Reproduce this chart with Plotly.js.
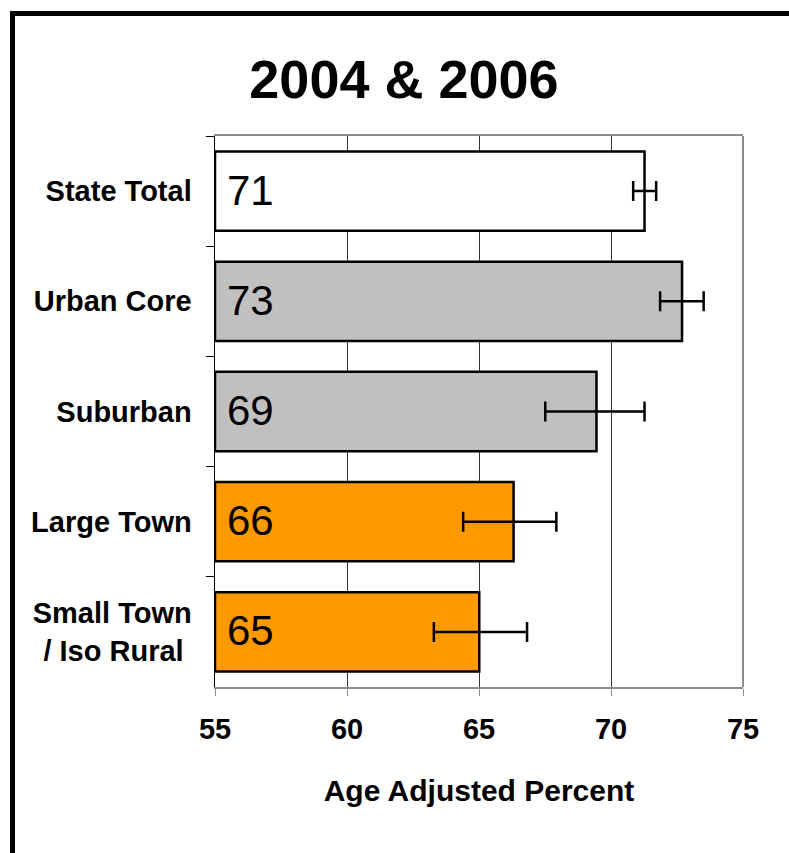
<!DOCTYPE html>
<html>
<head>
<meta charset="utf-8">
<script src="https://cdn.plot.ly/plotly-3.0.1.min.js"></script>
<style>
  html, body { margin: 0; padding: 0; background: #fff; }
  #wrap { position: relative; width: 789px; height: 853px; overflow: hidden; }
  #chart { position: absolute; left: 0; top: 0; width: 789px; height: 853px; }
  #frame { position: absolute; left: 10px; top: 11px; width: 900px; height: 900px;
           border-left: 5px solid #000; border-top: 5px solid #000; pointer-events: none; }
</style>
</head>
<body>
<div id="wrap">
  <div id="chart"></div>
  <div id="frame"></div>
</div>
<script>
// Data
const categories = ['State Total', 'Urban Core', 'Suburban', 'Large Town', 'Small Town<br>/ Iso Rural&nbsp;'];
const values     = [71.27, 72.69, 69.45, 66.31, 65.01];
const errPlus    = [0.44, 0.82, 1.82, 1.62, 1.81];
const errMinus   = [0.43, 0.83, 1.94, 1.91, 1.72];
const barColors  = ['#FFFFFF', '#C0C0C0', '#C0C0C0', '#FF9900', '#FF9900'];
const xTicks     = [55, 60, 65, 70, 75];
const axisMin    = 55;

const trace = {
  type: 'bar',
  orientation: 'h',
  y: categories,
  x: values.map(v => v - axisMin),
  base: axisMin,
  marker: { color: barColors, line: { color: '#000', width: 2.5 } },
  error_x: {
    type: 'data', symmetric: false,
    array: errPlus, arrayminus: errMinus,
    color: '#000', thickness: 2.5, width: 10
  },
  hoverinfo: 'none'
};

const annotations = categories.map((c, i) => ({
  x: axisMin, y: c, xref: 'x', yref: 'y',
  text: String(Math.round(values[i])),
  showarrow: false, xanchor: 'left', yanchor: 'middle',
  xshift: 10, yshift: 1,
  font: { family: 'Liberation Sans, Arial, sans-serif', size: 42, color: '#000' }
}));

const layout = {
  width: 789, height: 853,
  margin: { l: 215, r: 46, t: 136, b: 166 },
  paper_bgcolor: '#fff', plot_bgcolor: '#fff',
  showlegend: false,
  bargap: 0.28,
  title: {
    text: '<b>2004 &amp; 2006</b>',
    font: { family: 'Liberation Sans, Arial, sans-serif', size: 54, color: '#000' },
    xref: 'container', x: 0.512, xanchor: 'center',
    yref: 'container', y: 0.907, yanchor: 'middle'
  },
  xaxis: {
    range: [55, 75],
    tickvals: xTicks,
    ticktext: xTicks.map(String),
    tickfont: { family: 'Liberation Sans, Arial, sans-serif', size: 29, color: '#000', weight: 'bold' },
    ticks: 'outside', ticklen: 7, tickcolor: '#8c8c8c', tickwidth: 1,
    ticklabelstandoff: 8,
    showgrid: true, gridcolor: '#333', gridwidth: 1,
    zeroline: false,
    showline: true, linecolor: '#8c8c8c', linewidth: 2, mirror: true,
    title: {
      text: '<b>Age Adjusted Percent</b>',
      font: { family: 'Liberation Sans, Arial, sans-serif', size: 30, color: '#000' },
      standoff: 36
    }
  },
  yaxis: {
    type: 'category',
    autorange: 'reversed',
    tickson: 'boundaries',
    ticks: 'outside', ticklen: 8, tickcolor: '#000', tickwidth: 1,
    tickfont: { family: 'Liberation Sans, Arial, sans-serif', size: 29, color: '#000', weight: 'bold' },
    ticklabelstandoff: 16,
    showgrid: false, zeroline: false,
    showline: true, linecolor: '#000', linewidth: 1.5, mirror: false
  },
  shapes: [{
    type: 'line', xref: 'paper', yref: 'paper', x0: 1, x1: 1, y0: 0, y1: 1,
    line: { color: '#8c8c8c', width: 2 }, layer: 'above'
  }],
  annotations: annotations
};

Plotly.newPlot('chart', [trace], layout, { staticPlot: true, displayModeBar: false });
</script>
</body>
</html>
